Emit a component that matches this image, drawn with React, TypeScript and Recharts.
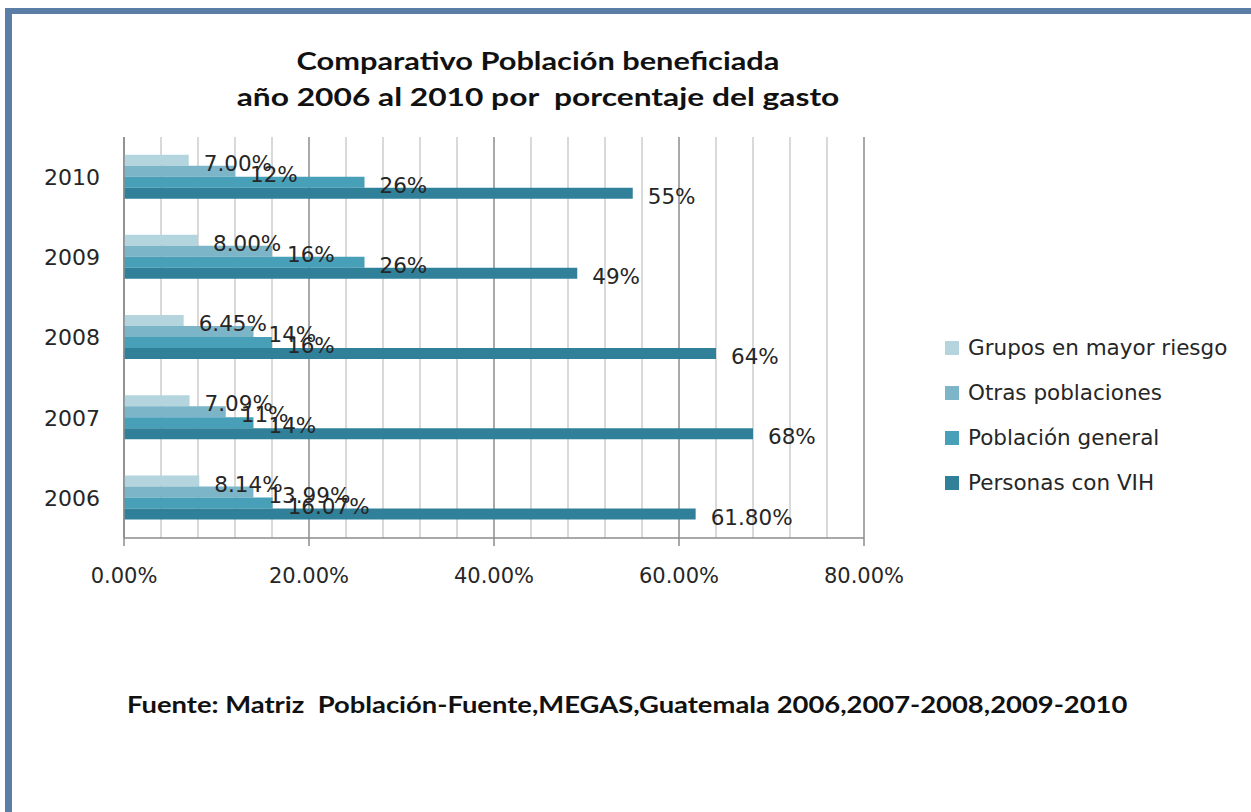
import React from 'react';
import { BarChart, Bar, XAxis, YAxis, CartesianGrid, LabelList, Legend } from 'recharts';

const years = ['2010', '2009', '2008', '2007', '2006'];
const grupos = [7.0, 8.0, 6.45, 7.09, 8.14];
const otras = [12, 16, 14, 11, 13.99];
const general = [26, 26, 16, 14, 16.07];
const vih = [55, 49, 64, 68, 61.8];
const gruposLabels = ['7.00%', '8.00%', '6.45%', '7.09%', '8.14%'];
const otrasLabels = ['12%', '16%', '14%', '11%', '13.99%'];
const generalLabels = ['26%', '26%', '16%', '14%', '16.07%'];
const vihLabels = ['55%', '49%', '64%', '68%', '61.80%'];
const seriesNames = ['Grupos en mayor riesgo', 'Otras poblaciones', 'Población general', 'Personas con VIH'];
const majorTicks = [0, 20, 40, 60, 80];
const minorTicks = [4, 8, 12, 16, 24, 28, 32, 36, 44, 48, 52, 56, 64, 68, 72, 76];
const titleLines = ['Comparativo Población beneficiada', 'año 2006 al 2010 por  porcentaje del gasto'];
const sourceText = 'Fuente: Matriz  Población-Fuente,MEGAS,Guatemala 2006,2007-2008,2009-2010';

const colors = ['#b4d5de', '#7bb5c7', '#48a0b8', '#31809a'];

const data = years.map((y, i) => ({
  year: y,
  g: grupos[i],
  o: otras[i],
  p: general[i],
  v: vih[i],
  gL: gruposLabels[i],
  oL: otrasLabels[i],
  pL: generalLabels[i],
  vL: vihLabels[i],
}));

const FONT = '"DejaVu Sans", Verdana, sans-serif';
const TITLE_FONT = 'Lato, "Open Sans", sans-serif';

const renderLegend = (props: any) => {
  const payload = [...(props.payload || [])].sort(
    (a: any, b: any) => seriesNames.indexOf(a.value) - seriesNames.indexOf(b.value)
  );
  return (
    <div style={{ fontFamily: FONT, fontSize: 21.5, color: '#262626' }}>
      {payload.map((e: any, i: number) => (
        <div key={i} style={{ display: 'flex', alignItems: 'center', height: 45, whiteSpace: 'nowrap' }}>
          <span style={{ display: 'inline-block', width: 14, height: 14, background: e.color, marginRight: 9 }} />
          <span>{e.value}</span>
        </div>
      ))}
    </div>
  );
};

const fmtTick = (v: number) => v.toFixed(2) + '%';

const minorGen = (props: any) => {
  const xAxis = props && props.xAxis;
  const sc = xAxis && xAxis.scale;
  if (!sc) return [];
  const fn = typeof sc === 'function' ? sc : typeof sc.map === 'function' ? (v: number) => sc.map(v) : null;
  if (!fn) return [];
  return minorTicks.map((t) => fn(t));
};

export default function App() {
  const labelStyle = { fontFamily: FONT, fontSize: 21.5, fill: '#262626' };
  return (
    <div style={{ position: 'absolute', left: 0, top: 0, width: 1251, height: 812, background: '#ffffff', overflow: 'hidden' }}>
      <div style={{ position: 'absolute', left: 5, top: 8, width: 1246, height: 804, borderTop: '6px solid #5a7ea6', borderLeft: '7px solid #5a7ea6', boxSizing: 'border-box' }} />
      <div style={{ position: 'absolute', left: 0, top: 42, width: 1076, textAlign: 'center', fontFamily: TITLE_FONT, fontWeight: 700, fontSize: 25, lineHeight: '36px', color: '#111' }}>
        <div style={{ transform: 'scaleX(1.23)', transformOrigin: '538px 50%' }}>{titleLines[0]}</div>
        <div style={{ whiteSpace: 'pre', transform: 'scaleX(1.27)', transformOrigin: '538px 50%' }}>{titleLines[1]}</div>
      </div>
      <div style={{ position: 'absolute', left: 127, top: 690, whiteSpace: 'pre', fontFamily: TITLE_FONT, fontWeight: 700, fontSize: 23, color: '#111', transform: 'scaleX(1.19)', transformOrigin: '0 50%' }}>
        {sourceText}
      </div>
      <div style={{ position: 'absolute', left: 0, top: 0 }}>
        <BarChart
          width={1251}
          height={812}
          data={data}
          layout="vertical"
          margin={{ top: 137, right: 387, bottom: 234, left: 0 }}
          barCategoryGap="22%"
          barGap={0}
          style={{ fontFamily: FONT }}
        >
          <CartesianGrid horizontal={false} stroke="#8c8c8c" strokeWidth={1.5} />
          <CartesianGrid
            horizontal={false}
            stroke="#cdcdcd"
            strokeWidth={1.5}
            verticalValues={minorTicks}
            verticalCoordinatesGenerator={minorGen}
          />
          <XAxis
            type="number"
            domain={[0, 80]}
            ticks={majorTicks}
            tickFormatter={fmtTick}
            height={40}
            axisLine={{ stroke: '#8c8c8c', strokeWidth: 1.5 }}
            tickLine={{ stroke: '#8c8c8c', strokeWidth: 1.5 }}
            tickSize={8}
            tickMargin={22}
            tick={{ fontFamily: FONT, fontSize: 21, fill: '#262626' }}
            interval={0}
          />
          <YAxis
            type="category"
            dataKey="year"
            width={124}
            axisLine={{ stroke: '#8c8c8c', strokeWidth: 1.5 }}
            tickLine={false}
            tickSize={0}
            tickMargin={24}
            tick={{ fontFamily: FONT, fontSize: 22, fill: '#262626' }}
          />
          <Legend
            layout="vertical"
            align="center"
            verticalAlign="middle"
            wrapperStyle={{ left: 945, top: 325, width: 300 }}
            content={renderLegend}
          />
          <Bar dataKey="g" name={seriesNames[0]} fill={colors[0]} isAnimationActive={false}>
            <LabelList dataKey="gL" position="right" offset={15} dy={3} style={labelStyle} />
          </Bar>
          <Bar dataKey="o" name={seriesNames[1]} fill={colors[1]} isAnimationActive={false}>
            <LabelList dataKey="oL" position="right" offset={15} dy={3} style={labelStyle} />
          </Bar>
          <Bar dataKey="p" name={seriesNames[2]} fill={colors[2]} isAnimationActive={false}>
            <LabelList dataKey="pL" position="right" offset={15} dy={3} style={labelStyle} />
          </Bar>
          <Bar dataKey="v" name={seriesNames[3]} fill={colors[3]} isAnimationActive={false}>
            <LabelList dataKey="vL" position="right" offset={15} dy={3} style={labelStyle} />
          </Bar>
        </BarChart>
      </div>
    </div>
  );
}
